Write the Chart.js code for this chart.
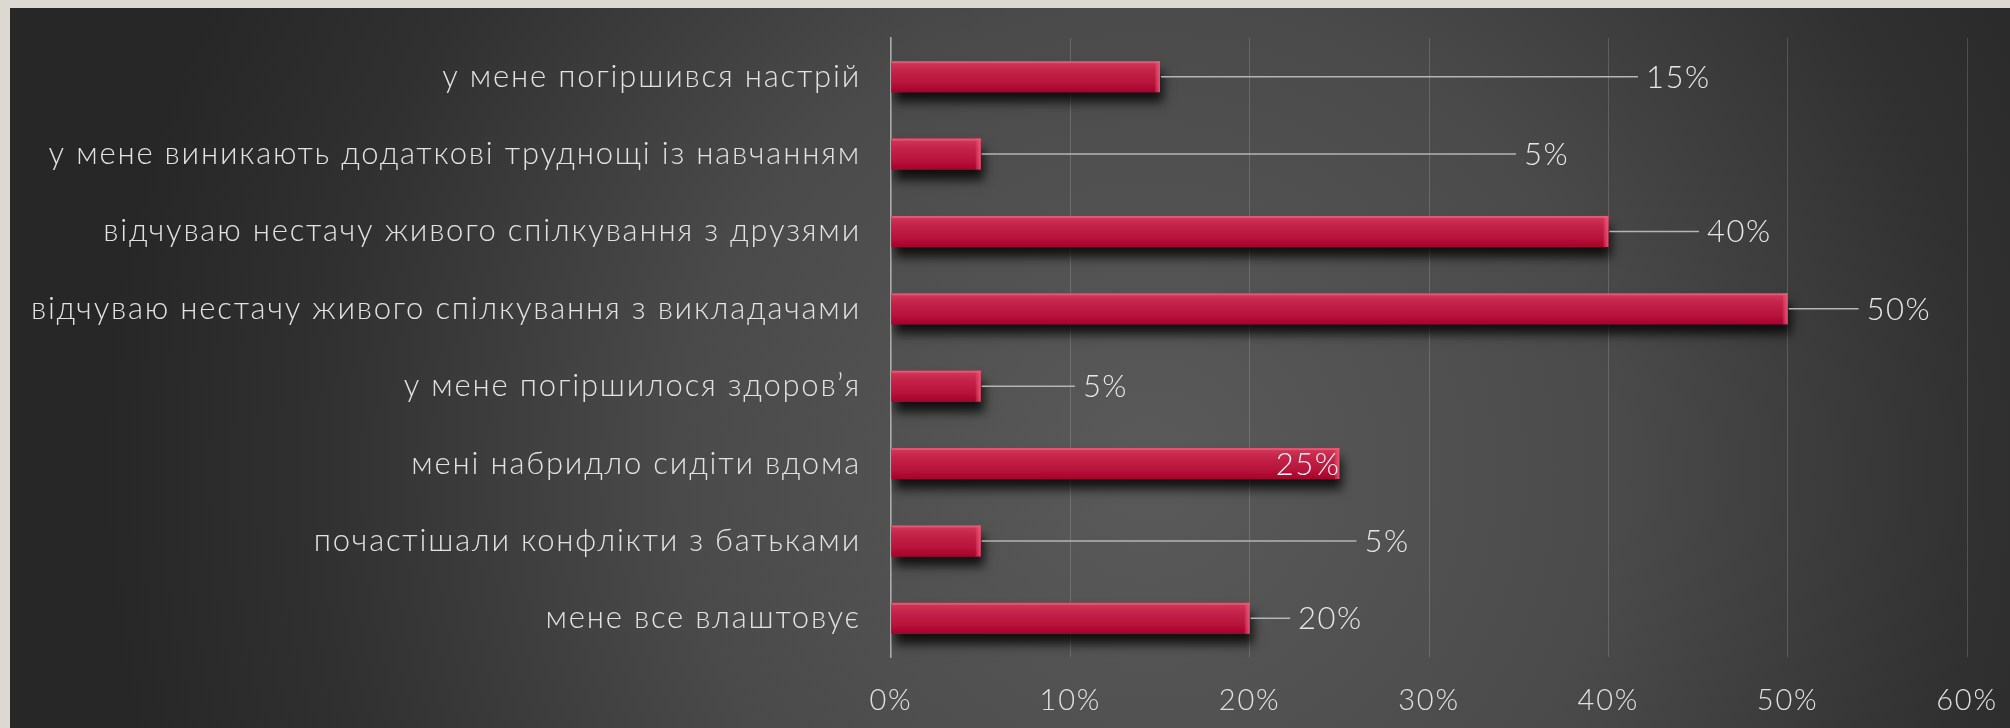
<!DOCTYPE html>
<html>
<head>
<meta charset="utf-8">
<script src="https://cdn.jsdelivr.net/npm/chart.js@4.4.1/dist/chart.umd.min.js"></script>
<style>
  html, body { margin: 0; padding: 0; background: #dcd9d2; }
  #wrap { width: 2010px; height: 728px; }
</style>
</head>
<body>
<div id="wrap"><canvas id="graph-bar" width="2010" height="728"></canvas></div>
<script>
const categories = [
  'у мене погіршився настрій',
  'у мене виникають додаткові труднощі із навчанням',
  'відчуваю нестачу живого спілкування з друзями',
  'відчуваю нестачу живого спілкування з викладачами',
  'у мене погіршилося здоров’я',
  'мені набридло сидіти вдома',
  'почастішали конфлікти з батьками',
  'мене все влаштовує'
]
const values = [15, 5, 40, 50, 5, 25, 5, 20]
// where each value label sits on the % axis (null = inside the bar end)
const labelAt = [42.1, 35.3, 45.5, 54.4, 10.7, null, 26.4, 22.7]
const tickLabels = ['0%', '10%', '20%', '30%', '40%', '50%', '60%']

const FONT = "'Lato', 'Open Sans', sans-serif"

const background = {
  id: 'background',
  beforeDraw(chart) {
    const ctx = chart.ctx
    ctx.save()
    ctx.fillStyle = '#dcd9d2'
    ctx.fillRect(0, 0, chart.width, chart.height)
    const g = ctx.createRadialGradient(1150, 470, 0, 1150, 470, 1050)
    g.addColorStop(0, '#5a5a5a')
    g.addColorStop(0.45, '#4a4a4a')
    g.addColorStop(0.8, '#303030')
    g.addColorStop(1, '#272727')
    ctx.fillStyle = g
    ctx.fillRect(10, 8, chart.width - 10, chart.height - 8)
    ctx.restore()
    // wider tracking for the axis texts, like the original font
    ctx.letterSpacing = '1.8px'
  },
  beforeDatasetsDraw(chart) {
    chart.ctx.letterSpacing = '0px'
  }
}

const barLook = {
  id: 'barLook',
  beforeDatasetDraw(chart) {
    const ctx = chart.ctx
    ctx.save()
    ctx.shadowColor = 'rgba(0,0,0,0.8)'
    ctx.shadowBlur = 10
    ctx.shadowOffsetX = 3
    ctx.shadowOffsetY = 10
  },
  afterDatasetDraw(chart) {
    const ctx = chart.ctx
    ctx.restore()
    ctx.save()
    chart.getDatasetMeta(0).data.forEach(bar => {
      const x0 = bar.base, x1 = bar.x
      const y0 = bar.y - bar.height / 2, h = bar.height
      const g = ctx.createLinearGradient(0, y0, 0, y0 + h)
      g.addColorStop(0, '#d23a58')
      g.addColorStop(0.3, '#c4234a')
      g.addColorStop(0.7, '#b8143c')
      g.addColorStop(1, '#a8002c')
      ctx.fillStyle = g
      ctx.fillRect(x0, y0, x1 - x0, h)
      // top bevel
      ctx.fillStyle = 'rgba(255,150,170,0.35)'
      ctx.fillRect(x0, y0, x1 - x0, 2)
      // right end bevel
      const e = ctx.createLinearGradient(x1 - 5, 0, x1, 0)
      e.addColorStop(0, 'rgba(240,90,120,0.2)')
      e.addColorStop(1, 'rgba(240,90,120,0.9)')
      ctx.fillStyle = e
      ctx.fillRect(x1 - 5, y0, 5, h)
    })
    ctx.restore()
  }
}

const valueLabels = {
  id: 'valueLabels',
  afterDatasetsDraw(chart) {
    const ctx = chart.ctx
    const xs = chart.scales.x
    ctx.save()
    ctx.font = '300 31px ' + FONT
    ctx.letterSpacing = '1.5px'
    ctx.textBaseline = 'middle'
    chart.getDatasetMeta(0).data.forEach((bar, i) => {
      const txt = values[i] + '%'
      if (labelAt[i] === null) {
        ctx.fillStyle = '#f2f2f2'
        ctx.textAlign = 'right'
        ctx.fillText(txt, bar.x + 1, bar.y + 1)
        return
      }
      const lx = xs.getPixelForValue(labelAt[i])
      ctx.strokeStyle = '#b5b5b5'
      ctx.lineWidth = 1.5
      ctx.beginPath()
      ctx.moveTo(bar.x + 1, bar.y)
      ctx.lineTo(lx - 8, bar.y)
      ctx.stroke()
      ctx.fillStyle = '#e6e6e6'
      ctx.textAlign = 'left'
      ctx.fillText(txt, lx, bar.y + 1)
    })
    ctx.restore()
  }
}

const data = {
  labels: categories,
  datasets: [{
    data: values,
    backgroundColor: '#b8143c',
    borderWidth: 0,
    categoryPercentage: 1,
    barPercentage: 0.4
  }]
}

const config = {
  type: 'bar',
  data: data,
  options: {
    indexAxis: 'y',
    responsive: false,
    animation: false,
    layout: { padding: { left: 10, top: 38, right: 43, bottom: 0 } },
    plugins: { legend: { display: false }, tooltip: { enabled: false } },
    scales: {
      x: {
        min: 0,
        max: 60,
        ticks: {
          stepSize: 10,
          color: '#e0e0e0',
          font: { family: FONT, size: 29, weight: 300 },
          padding: 26,
          callback: (v, i) => tickLabels[i]
        },
        grid: { color: 'rgba(255,255,255,0.16)', lineWidth: 1, drawTicks: false },
        border: { display: false },
        afterFit: s => { s.height = 71; s.paddingLeft = 0; s.paddingRight = 0 }
      },
      y: {
        ticks: {
          color: '#e2e2e2',
          font: { family: FONT, size: 31, weight: 300 },
          padding: 30
        },
        grid: { display: false, drawTicks: false },
        border: { display: true, color: '#a8a8a8', width: 1.5 },
        afterFit: s => { s.width = 881; s.paddingTop = 0; s.paddingBottom = 0 }
      }
    }
  },
  plugins: [background, barLook, valueLabels]
}

let chart = new Chart(document.querySelector('#graph-bar'), config)
</script>
</body>
</html>
